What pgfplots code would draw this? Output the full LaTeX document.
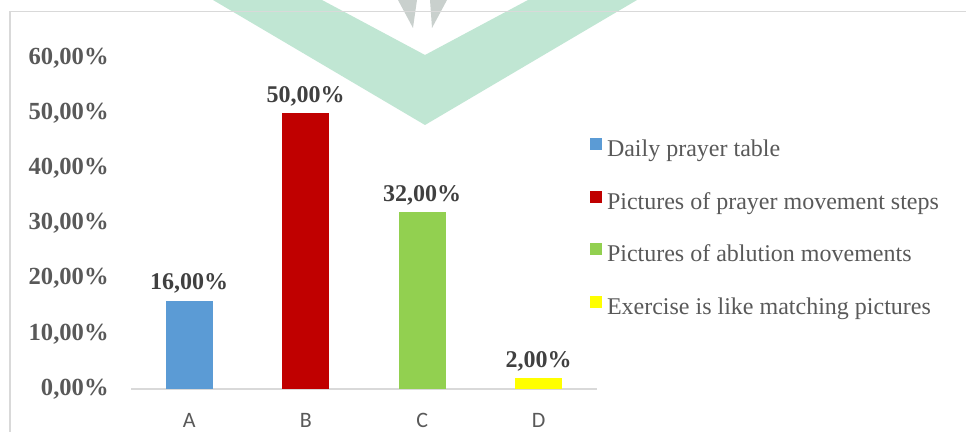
\documentclass[border=0pt]{standalone}
\usepackage{fontspec}
\setmainfont{Liberation Serif}
\newfontfamily\carlito{Carlito}
\usepackage{pgfplots}
\pgfplotsset{compat=1.18}
\definecolor{cA}{HTML}{5B9BD5}
\definecolor{cB}{HTML}{C00000}
\definecolor{cC}{HTML}{92D050}
\definecolor{cD}{HTML}{FFFF00}
\definecolor{txt}{HTML}{595959}
\definecolor{lbl}{HTML}{404040}
\definecolor{grid}{HTML}{D9D9D9}
\definecolor{wm}{HTML}{C0E6D3}
\definecolor{wmg}{HTML}{C9D0CD}
\begin{document}
\begin{tikzpicture}
\useasboundingbox (0,0) rectangle (483pt,216pt);
\fill[white] (0,0) rectangle (483pt,216pt);
% watermark
\fill[wm] (106.5pt,216pt) -- (212.5pt,153.5pt) -- (318.5pt,216pt) -- (264pt,216pt) -- (212.5pt,188.5pt) -- (161pt,216pt) -- cycle;
\fill[wmg] (199pt,216pt) -- (208.5pt,216pt) -- (206.5pt,202pt) -- cycle;
\fill[wmg] (215pt,216pt) -- (223.5pt,216pt) -- (216pt,202pt) -- cycle;
% chart border
\draw[grid, line width=0.75pt] (5pt,0pt) -- (5pt,210.25pt) -- (483pt,210.25pt);
\begin{axis}[
  at={(65.5pt,21.5pt)}, anchor=south west,
  scale only axis, width=233pt, height=165.5pt,
  ybar, bar width=23.5pt,
  xmin=-0.5, xmax=3.5, ymin=0, ymax=60,
  axis x line*=bottom, axis y line*=left,
  x axis line style={grid, line width=1pt, -},
  y axis line style={draw=none},
  major tick length=0pt,
  xtick={0,1,2,3}, xticklabels={A,B,C,D},
  xticklabel style={font=\carlito\fontsize{11pt}{13pt}\selectfont, text=txt, anchor=center, yshift=-15.5pt},
  ytick={0,10,20,30,40,50,60},
  yticklabels={{0,00\%},{10,00\%},{20,00\%},{30,00\%},{40,00\%},{50,00\%},{60,00\%}},
  yticklabel style={font=\bfseries\fontsize{12.3pt}{14pt}\selectfont, text=txt, anchor=east, xshift=-11pt, inner sep=0pt},
  clip=false,
  nodes near coords style={font=\bfseries\fontsize{12pt}{14pt}\selectfont, text=lbl},
  legend style={draw=none, fill=none, at={(0.985,0.758)}, anchor=north west,
    inner sep=0pt, outer sep=0pt, row sep=14.5pt,
    font=\fontsize{12pt}{14pt}\selectfont, text=txt,
    nodes={inner sep=0pt, text height=8pt, text depth=2.5pt}},
  legend cell align=left,
  legend image code/.code={\fill[#1] (0pt,0.5pt) rectangle (6pt,6.5pt);},
  /tikz/every odd column/.append style={column sep=2.5pt},
]
\addplot[fill=cA, draw=none, bar shift=0pt, nodes near coords={16,00\%}] coordinates {(0,16)};
\addplot[fill=cB, draw=none, bar shift=0pt, nodes near coords={50,00\%}] coordinates {(1,50)};
\addplot[fill=cC, draw=none, bar shift=0pt, nodes near coords={32,00\%}] coordinates {(2,32)};
\addplot[fill=cD, draw=none, bar shift=0pt, nodes near coords={2,00\%}] coordinates {(3,2)};
\legend{Daily prayer table, Pictures of prayer movement steps, Pictures of ablution movements, Exercise is like matching pictures}
\end{axis}
\end{tikzpicture}
\end{document}
